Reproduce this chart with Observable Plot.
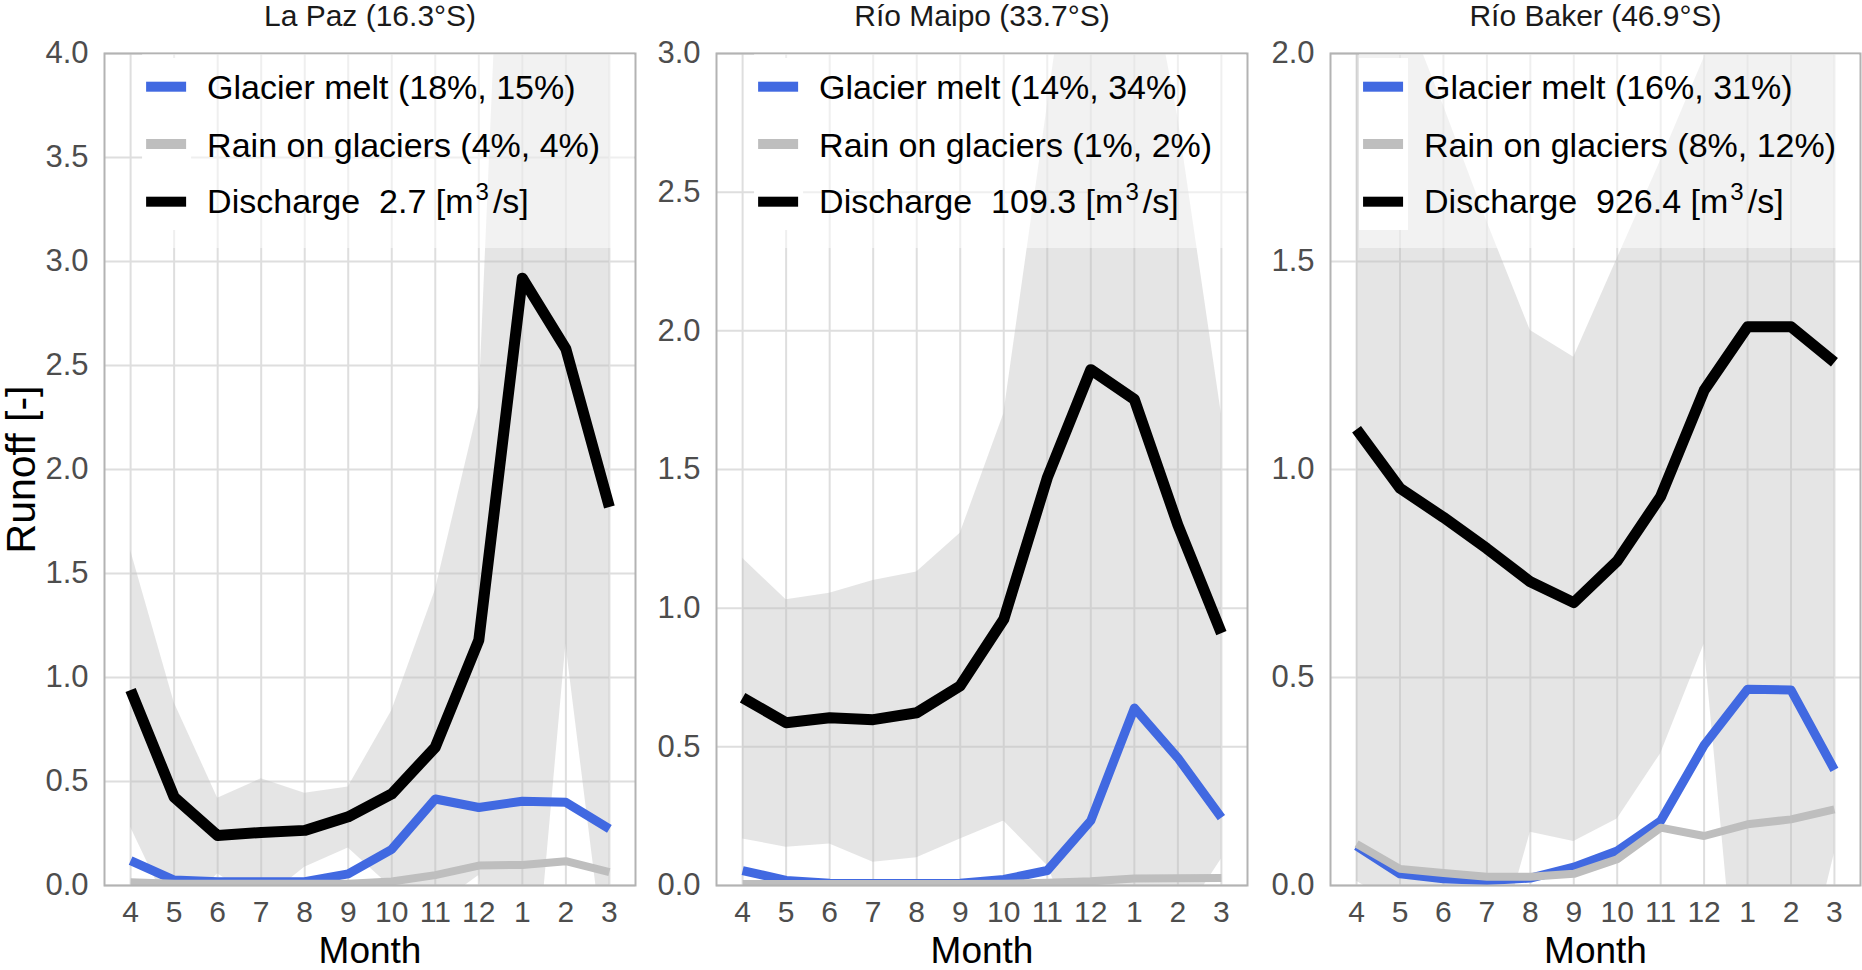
<!DOCTYPE html>
<html>
<head>
<meta charset="utf-8">
<script src="https://cdn.jsdelivr.net/npm/d3@7"></script>
<script src="https://cdn.jsdelivr.net/npm/@observablehq/plot@0.6"></script>
<style>
  body { margin: 0; background: #fff; }
  #chart { position: relative; width: 1862px; height: 970px; font-family: "Liberation Sans", Arial, sans-serif; }
  #chart svg { position: absolute; top: 0; }
</style>
</head>
<body>
<div id="chart"></div>
<script>
// hydrological year, April to March
const months = [4, 5, 6, 7, 8, 9, 10, 11, 12, 1, 2, 3];
const sites = ["La Paz (16.3°S)", "Río Maipo (33.7°S)", "Río Baker (46.9°S)"];
const yMax = [4, 3, 2];
const yTicks = [
  [0, 0.5, 1, 1.5, 2, 2.5, 3, 3.5, 4],
  [0, 0.5, 1, 1.5, 2, 2.5, 3],
  [0, 0.5, 1, 1.5, 2]
];

// normalised discharge (black)
const discharge = [
  [0.94, 0.425, 0.24, 0.255, 0.265, 0.33, 0.44, 0.665, 1.18, 2.92, 2.58, 1.82],
  [0.677, 0.587, 0.605, 0.598, 0.623, 0.72, 0.96, 1.47, 1.86, 1.753, 1.30, 0.91],
  [1.097, 0.955, 0.885, 0.81, 0.73, 0.68, 0.78, 0.935, 1.19, 1.343, 1.343, 1.258]
];
// glacier melt (blue)
const melt = [
  [0.12, 0.026, 0.018, 0.018, 0.018, 0.056, 0.174, 0.416, 0.375, 0.405, 0.40, 0.272],
  [0.054, 0.018, 0.008, 0.007, 0.007, 0.008, 0.022, 0.054, 0.234, 0.64, 0.46, 0.245],
  [0.095, 0.028, 0.016, 0.012, 0.018, 0.044, 0.083, 0.155, 0.337, 0.472, 0.47, 0.278]
];
// rain on glaciers (grey)
const rain = [
  [0.016, 0.008, 0.008, 0.008, 0.008, 0.009, 0.019, 0.05, 0.096, 0.099, 0.117, 0.064],
  [0.005, 0.005, 0.005, 0.005, 0.005, 0.005, 0.006, 0.01, 0.015, 0.025, 0.026, 0.027],
  [0.10, 0.04, 0.03, 0.021, 0.021, 0.028, 0.063, 0.139, 0.119, 0.147, 0.159, 0.183]
];
// discharge spread band, lower and upper edge
const bandLo = [
  [0.28, -0.16, 0.056, -0.08, 0.088, 0.18, -0.01, -0.104, 0.048, -1.18, 1.16, -0.52],
  [0.168, 0.138, 0.15, 0.084, 0.10, 0.168, 0.233, 0.072, -0.3, -0.6, -0.144, 0.096],
  [0.01, -0.05, -0.1, -0.24, 0.128, 0.106, 0.16, 0.317, 0.58, -0.54, -0.35, 0.077]
];
const bandHi = [
  [1.61, 0.88, 0.42, 0.513, 0.444, 0.473, 0.84, 1.42, 2.3, 7.2, 6.0, 4.6],
  [1.18, 1.03, 1.054, 1.10, 1.13, 1.27, 1.70, 2.81, 3.93, 3.6, 2.77, 1.70],
  [2.3, 2.14, 1.875, 1.596, 1.334, 1.27, 1.507, 1.743, 1.99, 2.5, 2.5, 2.4]
];
const meltShare = ["18%, 15%", "14%, 34%", "16%, 31%"];
const rainShare = ["4%, 4%", "1%, 2%", "8%, 12%"];
const meanQ = ["2.7", "109.3", "926.4"];

const panelLeft = [104, 716, 1330];
const panelWidth = [531, 531, 530];
const marginLeft = [104, 80, 82];
const legendShift = [0, 0, -9];

const container = d3.select("#chart");

sites.forEach((site, p) => {
  const rows = months.map((m, i) => ({
    i, q: discharge[p][i], melt: melt[p][i], rain: rain[p][i], lo: bandLo[p][i], hi: bandHi[p][i]
  }));

  const marks = [
    Plot.ruleX(d3.range(12), {stroke: "#dedede", strokeWidth: 2}),
    Plot.ruleY(yTicks[p], {stroke: "#dedede", strokeWidth: 2}),
    Plot.areaY(rows, {x: "i", y1: "lo", y2: "hi", fill: "#bebebe", fillOpacity: 0.4, clip: true}),
    Plot.line(rows, {x: "i", y: "melt", stroke: "#4169e1", strokeWidth: 9, strokeLinejoin: "round", strokeLinecap: "butt", clip: true}),
    Plot.line(rows, {x: "i", y: "rain", stroke: "#bebebe", strokeWidth: 8, strokeLinejoin: "round", strokeLinecap: "butt", clip: true}),
    Plot.line(rows, {x: "i", y: "q", stroke: "black", strokeWidth: 11, strokeLinejoin: "round", strokeLinecap: "butt", clip: true}),
    Plot.frame({stroke: "#b3b3b3", strokeWidth: 2}),
    Plot.axisY(yTicks[p], {tickSize: 0, tickPadding: 16, fontSize: 31, color: "#4d4d4d", tickFormat: d3.format(".1f"), label: null}),
    Plot.axisX(d3.range(12), {tickSize: 0, tickPadding: 15, fontSize: 30, color: "#4d4d4d", tickFormat: i => months[i], label: null}),
    Plot.text([site], {text: d => d, frameAnchor: "top", dy: -28, lineAnchor: "bottom", fontSize: 30, fill: "#1a1a1a"}),
    Plot.text(["Month"], {text: d => d, frameAnchor: "bottom", dy: 77, lineAnchor: "bottom", fontSize: 37, fill: "black"})
  ];
  if (p === 0) {
    marks.push(Plot.text(["Runoff [-]"], {text: d => d, frameAnchor: "left", textAnchor: "middle", dx: -70, rotate: -90, lineAnchor: "bottom", fontSize: 41, fill: "black"}));
  }

  const chart = Plot.plot({
    width: marginLeft[p] + panelWidth[p] + 2,
    height: 970,
    marginLeft: marginLeft[p],
    marginRight: 2,
    marginTop: 53,
    marginBottom: 85,
    style: {fontFamily: "Liberation Sans, Arial, sans-serif", fontSize: "27px", background: "transparent", overflow: "visible"},
    x: {domain: [-0.6, 11.6]},
    y: {domain: [0, yMax[p]]},
    marks
  });

  // legend drawn inside the panel, top left
  const sx = chart.scale("x");
  const m4 = sx.apply(0) + legendShift[p];
  const right = marginLeft[p] + panelWidth[p];
  const svg = d3.select(chart);
  const g = svg.append("g")
    .attr("font-family", "Liberation Sans, Arial, sans-serif")
    .attr("font-size", 34)
    .attr("text-anchor", "start")
    .attr("fill", "black");
  g.append("rect").attr("x", m4 + 12).attr("y", 54).attr("width", right - m4 - 13).attr("height", 194)
    .attr("fill", "white").attr("fill-opacity", 0.5);
  g.append("rect").attr("x", m4 + 12).attr("y", 58).attr("width", 49).attr("height", 172).attr("fill", "white");
  const keys = [
    {color: "#4169e1", y: 86.7},
    {color: "#bebebe", y: 144},
    {color: "black", y: 201.7}
  ];
  keys.forEach(k => {
    g.append("rect").attr("x", m4 + 16).attr("y", k.y - 5).attr("width", 40).attr("height", 10).attr("fill", k.color);
  });
  const tx = m4 + 77;
  g.append("text").attr("x", tx).attr("y", 99).text(`Glacier melt (${meltShare[p]})`);
  g.append("text").attr("x", tx).attr("y", 157).text(`Rain on glaciers (${rainShare[p]})`);
  const t3 = g.append("text").attr("x", tx).attr("y", 213).style("white-space", "pre");
  t3.append("tspan").text(`Discharge  ${meanQ[p]} [m`);
  t3.append("tspan").attr("dx", 2).attr("dy", -13).attr("font-size", 24).text("3");
  t3.append("tspan").attr("dx", 4).attr("dy", 13).text("/s]");

  d3.select(chart).style("left", (panelLeft[p] - marginLeft[p]) + "px");
  container.append(() => chart);
});
</script>
</body>
</html>
